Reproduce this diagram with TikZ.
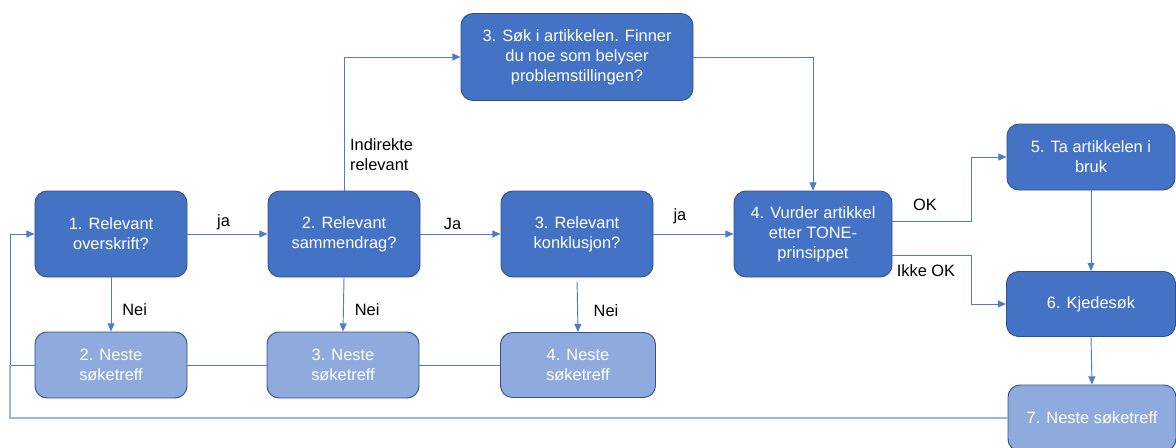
\documentclass[tikz,border=0pt]{standalone}
\usepackage{fontspec}
\setmainfont{Liberation Sans}
\usepackage{xcolor}
\usetikzlibrary{arrows.meta}

\definecolor{boxblue}{HTML}{4472C4}
\definecolor{boxline}{HTML}{2F528F}
\definecolor{boxlight}{HTML}{8FAADC}
\definecolor{wire}{HTML}{4E7BCB}
\definecolor{wirelight}{HTML}{9DB5E0}

\begin{document}
\begin{tikzpicture}[x=0.03cm,y=-0.03cm,
    every node/.style={font=\fontsize{14}{17}\selectfont},
    askbox/.style={draw=boxline,line width=0.8pt,fill=boxblue,text=white,
      rounded corners=0.36cm,align=center,inner sep=2pt},
    nextbox/.style={askbox,fill=boxlight},
    conn/.style={draw=wire,line width=0.8pt,-{Triangle[length=7pt,width=6pt]}},
    plain/.style={draw=wire,line width=0.8pt}]
  \useasboundingbox (0,0) rectangle (1176,447);
  \node (r1) [askbox,minimum width=4.56cm,minimum height=2.58cm] at (111,234)
    {1. Relevant\\overskrift?};
  \node (r2) [askbox,minimum width=4.56cm,minimum height=2.58cm] at (344,234)
    {2. Relevant\\sammendrag?};
  \node (r3) [askbox,minimum width=4.56cm,minimum height=2.58cm] at (577,234)
    {3. Relevant\\konklusjon?};
  \node (sk) [askbox,minimum width=6.96cm,minimum height=2.61cm] at (577,57)
    {3. Søk i artikkelen. Finner\\du noe som belyser\\problemstillingen?};
  \node (vt) [askbox,minimum width=4.74cm,minimum height=2.58cm] at (813,234)
    {4. Vurder artikkel\\etter TONE-\\prinsippet};
  \node (ta) [askbox,minimum width=5.04cm,minimum height=1.98cm] at (1091,157)
    {5. Ta artikkelen i\\bruk};
  \node (kj) [askbox,minimum width=5.07cm,minimum height=1.95cm] at (1091,304)
    {6. Kjedesøk};
  \node (n2) [nextbox,minimum width=4.56cm,minimum height=1.98cm] at (111,365)
    {2. Neste\\søketreff};
  \node (n3) [nextbox,minimum width=4.56cm,minimum height=1.98cm] at (343,365)
    {3. Neste\\søketreff};
  \node (n4) [nextbox,minimum width=4.65cm,minimum height=1.95cm] at (578,365)
    {4. Neste\\søketreff};
  \node (n7) [nextbox,minimum width=5.04cm,minimum height=1.98cm] at (1092,418)
    {7. Neste søketreff};
  \coordinate (loop) at (10,0);

  \draw[conn] (r1.east) -- (r2.west) node (ja1) [pos=.45,above=0pt] {ja};
  \draw[conn] (r2.east) -- (r3.west) node (ja2) [pos=.4,above=0pt] {Ja};
  \draw[conn] (r3.east) -- (vt.west) node (ja3) [pos=.33,above=5pt] {ja};
  \draw[conn] (r1.south) -- (n2.north) node (ne1) [pos=.6,right=6pt] {Nei};
  \draw[conn] (r2.south) -- (n3.north) node (ne2) [pos=.6,right=6pt] {Nei};
  \draw[conn,shorten <=4pt] (r3.south) -- (n4.north)
    node (ne3) [pos=.6,right=10pt] {Nei};
  \draw[conn] (r2.north) |- (sk.west);
  \node (ir) [right,align=left] at (346,155) {Indirekte\\relevant};
  \draw[conn] (sk.east) -| (vt.north);
  \draw[conn] ([yshift=0.39cm]vt.east) -- ++(79,0) |- (ta.west);
  \node (ok) at (925,205) {OK};
  \draw[conn] ([yshift=-0.63cm]vt.east) -- ++(79,0) |- (kj.west);
  \node (ik) at (926,271) {Ikke OK};
  \draw[conn] (ta.south) -- (kj.north);
  \draw[conn] (kj.south) -- (n7.north);

  \draw[plain] (n4.west) -- (n3.east);
  \draw[plain] (n3.west) -- (n2.east);
  \draw[conn] (n2.west) -- (n2.west -| loop) |- (r1.west);
  \draw[draw=wirelight,line width=1.1pt] (n7.west) -- (n7.west -| loop)
    -- (n2.west -| loop);
\end{tikzpicture}
\end{document}
